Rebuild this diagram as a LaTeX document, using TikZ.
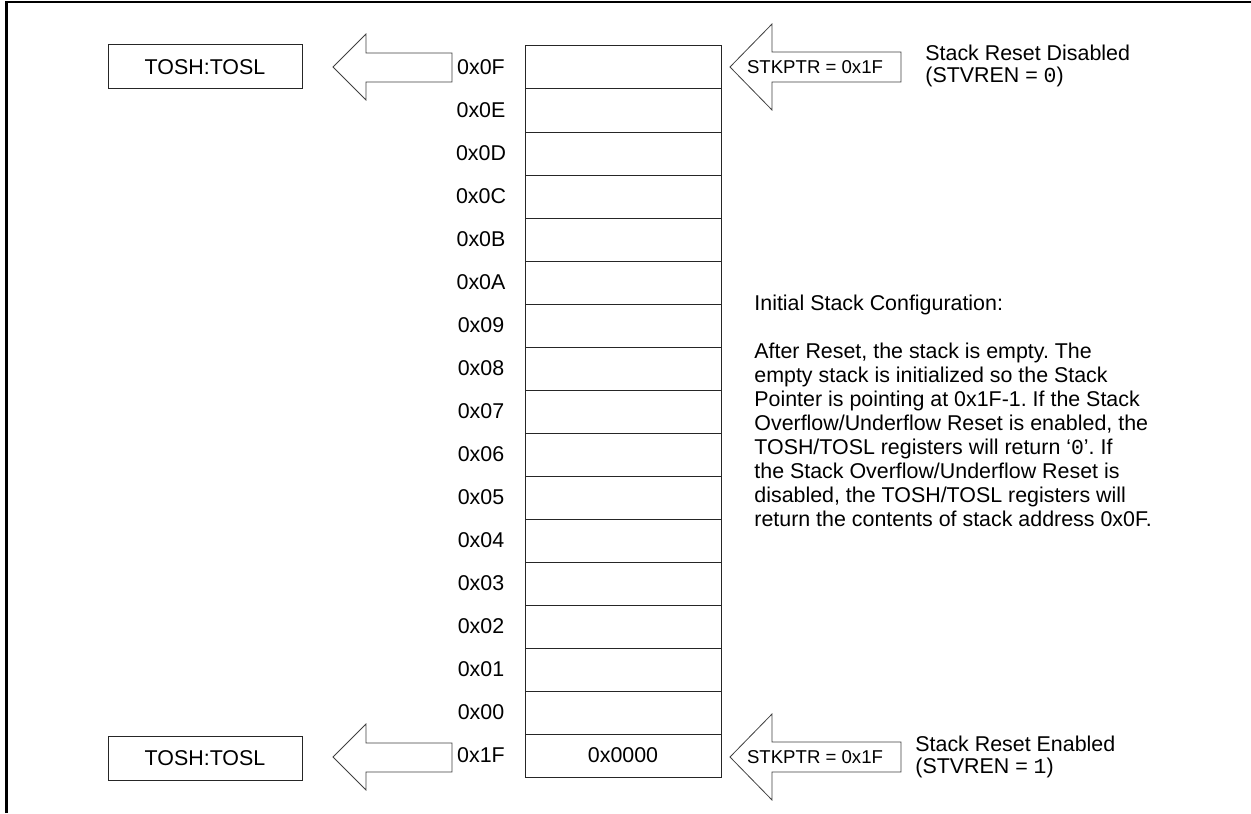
\documentclass[tikz,border=0pt]{standalone}
\usepackage{fontspec}
\setmainfont{Liberation Sans}
\newfontfamily\monof{Liberation Mono}
\begin{document}
\begin{tikzpicture}[x=0.5pt,y=-0.5pt,
  every node/.style={font=\fontsize{10.7pt}{12pt}\selectfont\frenchspacing, inner sep=0pt},
  cell/.style={draw=black!85, line width=0.5pt, minimum width=98pt, minimum height=21.5pt},
  addr/.style={anchor=center},
  tosbox/.style={draw=black!85, line width=0.5pt, minimum width=97pt, minimum height=22pt},
  bigarrow/.style={draw=black!75, line width=0.4pt, fill=white},
  ptrtext/.style={font=\fontsize{9.3pt}{11pt}\selectfont},
  sidetext/.style={anchor=west, align=left, font=\fontsize{10.7pt}{10.8pt}\selectfont},
  frameline/.style={line width=1.25pt, black}]
\useasboundingbox (0,0) rectangle (1251,813);
\draw[frameline] (6.5,813) -- (6.5,2) -- (1251,2);
% stack cells
\foreach \i/\a in {0/0x0F,1/0x0E,2/0x0D,3/0x0C,4/0x0B,5/0x0A,6/0x09,7/0x08,8/0x07,9/0x06,10/0x05,11/0x04,12/0x03,13/0x02,14/0x01,15/0x00}{
  \node[cell] (c\i) at (623,67.5+43*\i) {};
  \node[addr] (l\i) at (481,67.5+43*\i) {\a};
}
\node[cell] (c16) at (623,755.5) {0x0000};
\node[addr] (l16) at (481,755.5) {0x1F};
% TOSH boxes
\node[tosbox] (tos1) at (205,67) {TOSH:TOSL};
\node[tosbox] (tos2) at (205,758) {TOSH:TOSL};
% left arrows
\draw[bigarrow] (452,53) -- (366,53) -- (366,34) -- (333,67) -- (366,100) -- (366,82) -- (452,82) -- cycle;
\draw[bigarrow] (452,743) -- (366,743) -- (366,724) -- (333,757) -- (366,790) -- (366,772) -- (452,772) -- cycle;
% right arrows
\draw[bigarrow] (901,52) -- (772,52) -- (772,24) -- (730,67) -- (772,110) -- (772,82) -- (901,82) -- cycle;
\node[ptrtext] (sp1) at (815,67) {STKPTR = 0x1F};
\draw[bigarrow] (901,742) -- (772,742) -- (772,714) -- (730,757) -- (772,800) -- (772,772) -- (901,772) -- cycle;
\node[ptrtext] (sp2) at (815,757) {STKPTR = 0x1F};
% side texts
\node[sidetext] (dis) at (925,66) {Stack Reset Disabled\\(STVREN = {\monof 0})};
\node[sidetext] (ena) at (915,757) {Stack Reset Enabled\\(STVREN = {\monof 1})};
\node[anchor=west] (init) at (754,305) {Initial Stack Configuration:};
\node[anchor=west, align=left] (para) at (754,435) {After Reset, the stack is empty. The\\
empty stack is initialized so the Stack\\
Pointer is pointing at 0x1F-1. If the Stack\\
Overflow/Underflow Reset is enabled, the\\
TOSH/TOSL registers will return `{\monof 0}'. If\\
the Stack Overflow/Underflow Reset is\\
disabled, the TOSH/TOSL registers will\\
return the contents of stack address 0x0F.};
\end{tikzpicture}
\end{document}
